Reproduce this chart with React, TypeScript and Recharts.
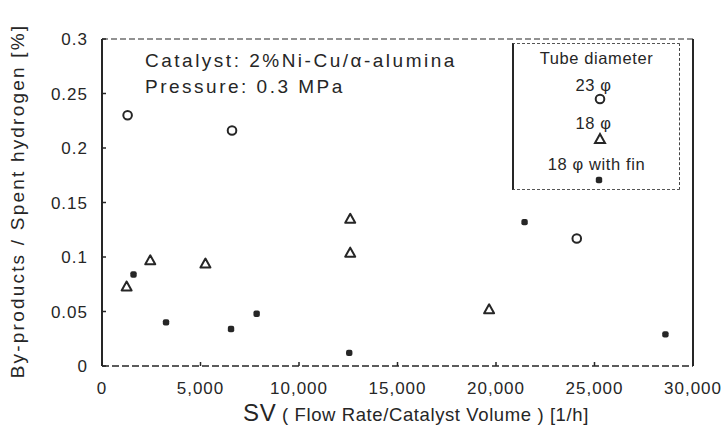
import React from "react";
import {
  ScatterChart,
  Scatter,
  XAxis,
  YAxis,
  ReferenceLine,
  Legend,
  Label,
} from "recharts";

const svTicks = [0, 5000, 10000, 15000, 20000, 25000, 30000];
const yTicks = [0, 0.05, 0.1, 0.15, 0.2, 0.25, 0.3];

const tube23 = [
  { sv: 1300, v: 0.23 },
  { sv: 6600, v: 0.216 },
  { sv: 24100, v: 0.117 },
];
const tube18 = [
  { sv: 1250, v: 0.073 },
  { sv: 2450, v: 0.097 },
  { sv: 5250, v: 0.094 },
  { sv: 12600, v: 0.135 },
  { sv: 12600, v: 0.104 },
  { sv: 19650, v: 0.052 },
];
const tube18Fin = [
  { sv: 1600, v: 0.084 },
  { sv: 3250, v: 0.04 },
  { sv: 6550, v: 0.034 },
  { sv: 7850, v: 0.048 },
  { sv: 12550, v: 0.012 },
  { sv: 21450, v: 0.132 },
  { sv: 28600, v: 0.029 },
];

const legendTitle = "Tube diameter";
const legendNames = ["23 φ", "18 φ", "18 φ  with fin"];
const annotation1 = "Catalyst: 2%Ni-Cu/α-alumina";
const annotation2 = "Pressure: 0.3 MPa";
const yLabel = "By-products / Spent hydrogen [%]";
const xLabelMain = "SV";
const xLabelRest = " ( Flow Rate/Catalyst Volume )  [1/h]";

const INK = "#262626";
const FONT = "'Liberation Sans', Arial, Helvetica, sans-serif";

const CircleShape = (p: any) => (
  <circle cx={p.cx} cy={p.cy} r={4.3} fill="#fff" stroke={INK} strokeWidth={2} />
);
const TriShape = (p: any) => (
  <polygon
    points={`${p.cx},${p.cy - 5} ${p.cx - 5},${p.cy + 4} ${p.cx + 5},${p.cy + 4}`}
    fill="#fff"
    stroke={INK}
    strokeWidth={2}
    strokeLinejoin="round"
  />
);
const DotShape = (p: any) => (
  <rect x={p.cx - 3.2} y={p.cy - 3.2} width={6.4} height={6.4} rx={2} fill={INK} />
);

const fmtX = (v: number) => (v === 0 ? "0" : v.toLocaleString("en-US"));
const fmtY = (v: number) => String(Number(v.toFixed(2)));

const XTick = (p: any) => {
  const { x, y, payload } = p;
  return (
    <g>
      <line x1={x} x2={x} y1={y - 8} y2={y - 12} stroke={INK} strokeWidth={1.5} />
      <text
        x={x}
        y={y + 20}
        textAnchor="middle"
        fontSize={17}
        fontFamily={FONT}
        fill={INK}
        letterSpacing={1}
      >
        {fmtX(payload.value)}
      </text>
    </g>
  );
};

const YTick = (p: any) => {
  const { x, y, payload } = p;
  return (
    <g>
      <line x1={x + 8} x2={x + 12} y1={y} y2={y} stroke={INK} strokeWidth={1.5} />
      <text
        x={x - 6}
        y={y + 6}
        textAnchor="end"
        fontSize={17}
        fontFamily={FONT}
        fill={INK}
        letterSpacing={1}
      >
        {fmtY(payload.value)}
      </text>
    </g>
  );
};

const LegendBox = () => (
  <div
    style={{
      width: 168,
      height: 147,
      boxSizing: "border-box",
      borderTop: `1px dashed #555`,
      borderBottom: `1px dashed #555`,
      borderLeft: `2px solid ${INK}`,
      borderRight: `1.5px dashed #444`,
      fontFamily: FONT,
      color: INK,
      fontSize: 16.5,
      letterSpacing: 0.6,
      textAlign: "center",
      background: "#fff",
      position: "relative",
    }}
  >
    <div style={{ position: "absolute", top: 5, left: 0, right: 0 }}>{legendTitle}</div>
    <div style={{ position: "absolute", top: 32, left: -6, right: 0 }}>{legendNames[0]}</div>
    <svg style={{ position: "absolute", left: 79, top: 48 }} width={14} height={14}>
      <circle cx={7} cy={7} r={4.3} fill="#fff" stroke={INK} strokeWidth={2} />
    </svg>
    <div style={{ position: "absolute", top: 70, left: -6, right: 0 }}>{legendNames[1]}</div>
    <svg style={{ position: "absolute", left: 79, top: 88 }} width={14} height={14}>
      <polygon points="7,2 2,11 12,11" fill="#fff" stroke={INK} strokeWidth={2} />
    </svg>
    <div style={{ position: "absolute", top: 111, left: 0, right: 0 }}>{legendNames[2]}</div>
    <svg style={{ position: "absolute", left: 78, top: 129 }} width={14} height={14}>
      <rect x={3.8} y={3.8} width={6.4} height={6.4} rx={2} fill={INK} />
    </svg>
  </div>
);

export default function App() {
  return (
    <div
      style={{
        position: "absolute",
        left: 0,
        top: 0,
        width: 724,
        height: 432,
        background: "#fff",
        overflow: "hidden",
      }}
    >
      <ScatterChart
        width={724}
        height={432}
        margin={{ top: 39, right: 31, bottom: 0, left: 0 }}
      >
        <XAxis
          type="number"
          dataKey="sv"
          domain={[0, 30000]}
          ticks={svTicks}
          height={66}
          tickSize={0}
          tickMargin={8}
          tickLine={false}
          tick={XTick}
          axisLine={{ stroke: INK, strokeWidth: 1.5, strokeDasharray: "7 3" }}
          interval={0}
        >
          <Label
            content={() => (
              <text
                x={416}
                y={421}
                textAnchor="middle"
                fontFamily={FONT}
                fill={INK}
                fontSize={18.5}
                letterSpacing={0.6}
              >
                <tspan fontSize={24}>{xLabelMain}</tspan>
                <tspan>{xLabelRest}</tspan>
              </text>
            )}
          />
        </XAxis>
        <YAxis
          type="number"
          dataKey="v"
          domain={[0, 0.3]}
          ticks={yTicks}
          width={102}
          tickSize={0}
          tickMargin={8}
          tickLine={false}
          tick={YTick}
          axisLine={{ stroke: INK, strokeWidth: 2 }}
          interval={0}
        >
          <Label
            content={() => (
              <text
                x={24}
                y={201}
                transform="rotate(-90 24 201)"
                textAnchor="middle"
                fontFamily={FONT}
                fill={INK}
                fontSize={19}
                letterSpacing={2.2}
              >
                {yLabel}
              </text>
            )}
          />
        </YAxis>
        <ReferenceLine y={0.3} stroke={INK} strokeWidth={1.2} strokeDasharray="6 3" />
        <ReferenceLine x={30000} stroke={INK} strokeWidth={2} />
        <Legend
          layout="horizontal"
          verticalAlign="middle"
          align="center"
          content={LegendBox}
          wrapperStyle={{ position: "absolute", left: 512, top: 43, width: 168, height: 147 }}
        />
        <Scatter name="23" data={tube23} shape={CircleShape} isAnimationActive={false} />
        <Scatter name="18" data={tube18} shape={TriShape} isAnimationActive={false} />
        <Scatter name="18fin" data={tube18Fin} shape={DotShape} isAnimationActive={false} />
      </ScatterChart>
      <div
        style={{
          position: "absolute",
          left: 145,
          top: 48,
          fontFamily: FONT,
          color: INK,
          fontSize: 19,
          lineHeight: "26px",
          letterSpacing: 2.5,
          whiteSpace: "nowrap",
        }}
      >
        <div>{annotation1}</div>
        <div>{annotation2}</div>
      </div>
    </div>
  );
}
